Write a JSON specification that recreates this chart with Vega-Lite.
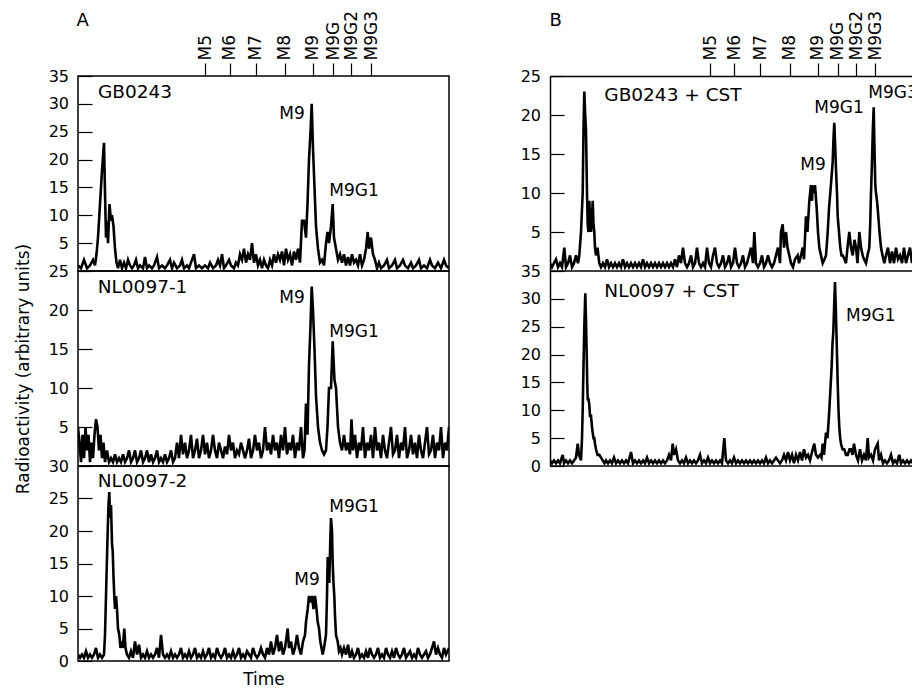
{
"$schema": "https://vega.github.io/schema/vega-lite/v6.json",
"padding": {"left": 13, "top": 9, "right": 0, "bottom": 0},
"background": "white",
"config": {
  "font": "DejaVu Sans",
  "view": {"stroke": "black", "strokeWidth": 1.5},
  "axis": {"grid": false, "labelColor": "black", "titleColor": "black", "tickColor": "black", "domainColor": "black", "labelFont": "DejaVu Sans", "titleFont": "DejaVu Sans", "titleFontWeight": "normal", "labelFontSize": 16, "titleFontSize": 17, "tickWidth": 1.2, "domainWidth": 1.5, "labelOverlap": false, "labelFlush": false, "labelBound": false},
  "line": {"color": "black", "strokeWidth": 2.6},
  "text": {"font": "DejaVu Sans", "color": "black"}
},
"datasets": {
"a1": [{"t":0,"v":1},{"t":3,"v":0.5},{"t":6,"v":2},{"t":9,"v":0.5},{"t":12,"v":1},{"t":15,"v":2},{"t":17,"v":1},{"t":18.5,"v":3},{"t":20,"v":6},{"t":22,"v":12},{"t":24,"v":18},{"t":26,"v":23},{"t":27,"v":14},{"t":28,"v":6},{"t":29,"v":9},{"t":30,"v":5},{"t":31.5,"v":12},{"t":33,"v":9},{"t":34,"v":10},{"t":35.5,"v":8},{"t":37,"v":4},{"t":38.5,"v":1.5},{"t":40,"v":0.5},{"t":42,"v":2},{"t":44,"v":0.5},{"t":46,"v":1.5},{"t":48,"v":0.5},{"t":50,"v":2},{"t":52,"v":1},{"t":54,"v":0.5},{"t":56,"v":1},{"t":58,"v":2},{"t":60,"v":0.5},{"t":62,"v":1},{"t":65,"v":0.5},{"t":67,"v":2.5},{"t":69,"v":0.5},{"t":71,"v":1},{"t":74,"v":0.5},{"t":76,"v":1},{"t":79,"v":2.5},{"t":81,"v":0.5},{"t":84,"v":1},{"t":87,"v":0.5},{"t":89,"v":1},{"t":92,"v":2},{"t":94,"v":0.5},{"t":96,"v":1.5},{"t":99,"v":0.5},{"t":102,"v":1},{"t":104,"v":2},{"t":106,"v":0.5},{"t":109,"v":1},{"t":111,"v":0.5},{"t":113,"v":1.5},{"t":116,"v":3},{"t":118,"v":0.5},{"t":121,"v":1},{"t":124,"v":0.5},{"t":127,"v":1},{"t":130,"v":0.5},{"t":132,"v":1.5},{"t":135,"v":0.5},{"t":138,"v":1},{"t":140,"v":2},{"t":142,"v":1},{"t":144,"v":3},{"t":146,"v":0.5},{"t":148,"v":1},{"t":151,"v":2},{"t":153,"v":1},{"t":156,"v":0.5},{"t":158,"v":1.5},{"t":160,"v":1},{"t":162,"v":3},{"t":164,"v":2},{"t":166,"v":4},{"t":168,"v":1.5},{"t":170,"v":3},{"t":172,"v":2},{"t":174,"v":5},{"t":176,"v":1.5},{"t":178,"v":3},{"t":180,"v":1},{"t":182,"v":2},{"t":184,"v":0.5},{"t":186,"v":2},{"t":188,"v":1},{"t":190,"v":0.5},{"t":192,"v":2},{"t":194,"v":1},{"t":196,"v":3},{"t":198,"v":1.5},{"t":200,"v":3},{"t":202,"v":2},{"t":204,"v":3.5},{"t":206,"v":1},{"t":208,"v":4},{"t":210,"v":2},{"t":212,"v":3},{"t":214,"v":1},{"t":216,"v":3.5},{"t":218,"v":2},{"t":220,"v":4},{"t":222,"v":1.5},{"t":224,"v":9},{"t":226,"v":9},{"t":228,"v":6},{"t":229.5,"v":12},{"t":231,"v":20},{"t":232.5,"v":25},{"t":233.7,"v":30},{"t":235,"v":22},{"t":236.5,"v":15},{"t":238,"v":8},{"t":240,"v":4},{"t":242,"v":1.5},{"t":244,"v":2},{"t":246,"v":1},{"t":248,"v":5},{"t":249.5,"v":7},{"t":251,"v":5},{"t":253,"v":8},{"t":254.7,"v":12},{"t":256,"v":6},{"t":258,"v":4},{"t":260,"v":2},{"t":262,"v":3},{"t":264,"v":1.5},{"t":266,"v":3},{"t":268,"v":1},{"t":270,"v":2.5},{"t":272,"v":1},{"t":274,"v":3},{"t":276,"v":1.5},{"t":278,"v":2},{"t":280,"v":1},{"t":282,"v":3},{"t":284,"v":1},{"t":286,"v":2},{"t":288,"v":4},{"t":289.7,"v":7},{"t":291,"v":4},{"t":293,"v":6},{"t":295,"v":3},{"t":297,"v":2},{"t":299,"v":0.5},{"t":301,"v":1.5},{"t":303,"v":0.5},{"t":306,"v":1},{"t":309,"v":2},{"t":311,"v":0.5},{"t":314,"v":1},{"t":317,"v":2},{"t":319,"v":0.5},{"t":322,"v":1},{"t":325,"v":2},{"t":327,"v":1},{"t":330,"v":0.5},{"t":333,"v":1.5},{"t":335,"v":0.5},{"t":338,"v":1},{"t":341,"v":2},{"t":343,"v":0.5},{"t":346,"v":1},{"t":349,"v":0.5},{"t":352,"v":2},{"t":354,"v":1},{"t":357,"v":0.5},{"t":360,"v":1.5},{"t":363,"v":0.5},{"t":366,"v":2},{"t":368,"v":1},{"t":371,"v":0.5}],
"a2": [{"t":0,"v":5},{"t":1.5,"v":3},{"t":3,"v":0.5},{"t":4.5,"v":4},{"t":6,"v":1},{"t":7.5,"v":5},{"t":9,"v":2},{"t":10.5,"v":4},{"t":12,"v":0.5},{"t":13.5,"v":3},{"t":15,"v":1},{"t":16.5,"v":4},{"t":18,"v":6},{"t":19.5,"v":5},{"t":21,"v":2},{"t":22.5,"v":4},{"t":24,"v":1},{"t":25.5,"v":3},{"t":27,"v":0.5},{"t":29,"v":2},{"t":31,"v":0.5},{"t":33,"v":1},{"t":35,"v":0.5},{"t":37,"v":1.5},{"t":39,"v":0.5},{"t":41,"v":1},{"t":43,"v":0.5},{"t":45,"v":1.5},{"t":47,"v":0.5},{"t":49,"v":1},{"t":51,"v":2},{"t":53,"v":0.5},{"t":55,"v":1},{"t":57,"v":2},{"t":59,"v":0.5},{"t":61,"v":1},{"t":63,"v":2},{"t":65,"v":0.5},{"t":67,"v":1},{"t":69,"v":2},{"t":71,"v":0.5},{"t":73,"v":1.5},{"t":75,"v":0.5},{"t":77,"v":1},{"t":79,"v":2},{"t":81,"v":0.5},{"t":83,"v":1},{"t":85,"v":0.5},{"t":87,"v":1.5},{"t":89,"v":0.5},{"t":91,"v":1},{"t":93,"v":2},{"t":95,"v":0.5},{"t":97,"v":1},{"t":99,"v":3},{"t":101,"v":1},{"t":103,"v":4},{"t":105,"v":1.5},{"t":107,"v":3},{"t":109,"v":1},{"t":111,"v":2},{"t":113,"v":4},{"t":115,"v":1},{"t":117,"v":2},{"t":119,"v":3.5},{"t":121,"v":1},{"t":123,"v":2},{"t":125,"v":4},{"t":127,"v":1.5},{"t":129,"v":3},{"t":131,"v":1},{"t":133,"v":2},{"t":135,"v":4},{"t":137,"v":2},{"t":139,"v":1},{"t":141,"v":3},{"t":143,"v":2},{"t":145,"v":1},{"t":147,"v":2.5},{"t":149,"v":1.5},{"t":151,"v":4},{"t":153,"v":2},{"t":155,"v":3},{"t":157,"v":1},{"t":159,"v":2},{"t":161,"v":1.5},{"t":163,"v":3},{"t":165,"v":2},{"t":167,"v":1},{"t":169,"v":2},{"t":171,"v":3.5},{"t":173,"v":1},{"t":175,"v":2},{"t":177,"v":4},{"t":179,"v":2},{"t":181,"v":3},{"t":183,"v":1},{"t":185,"v":2},{"t":187,"v":5},{"t":189,"v":2},{"t":191,"v":3},{"t":193,"v":1.5},{"t":195,"v":4},{"t":197,"v":2},{"t":199,"v":3},{"t":201,"v":1},{"t":203,"v":4},{"t":205,"v":2},{"t":207,"v":5},{"t":209,"v":1.5},{"t":211,"v":3},{"t":213,"v":2},{"t":215,"v":4},{"t":217,"v":1},{"t":219,"v":3},{"t":221,"v":2},{"t":223,"v":5},{"t":225,"v":1},{"t":226.5,"v":2},{"t":228,"v":8},{"t":229.5,"v":4},{"t":231,"v":13},{"t":232.5,"v":18},{"t":233.7,"v":23},{"t":235,"v":20},{"t":236.5,"v":15},{"t":238,"v":9},{"t":240,"v":5},{"t":242,"v":3},{"t":244,"v":2},{"t":246,"v":1.5},{"t":248,"v":2},{"t":249.5,"v":5},{"t":251,"v":10},{"t":253,"v":10},{"t":254.7,"v":16},{"t":256.5,"v":11},{"t":258,"v":10},{"t":260,"v":5},{"t":262,"v":3},{"t":264,"v":2},{"t":266,"v":4},{"t":268,"v":2},{"t":270,"v":3},{"t":272,"v":1.5},{"t":273.5,"v":6},{"t":275,"v":2},{"t":277,"v":4},{"t":279,"v":1},{"t":281,"v":3},{"t":283,"v":2},{"t":285,"v":5},{"t":287,"v":1},{"t":289,"v":3},{"t":291,"v":2},{"t":293,"v":4},{"t":295,"v":1},{"t":297,"v":5},{"t":299,"v":2},{"t":301,"v":3},{"t":303,"v":1},{"t":305,"v":4},{"t":307,"v":2},{"t":309,"v":1},{"t":311,"v":3},{"t":313,"v":5},{"t":315,"v":1.5},{"t":317,"v":2},{"t":319,"v":4},{"t":321,"v":1},{"t":323,"v":3},{"t":325,"v":2},{"t":327,"v":5},{"t":329,"v":1},{"t":331,"v":2},{"t":333,"v":4},{"t":335,"v":1.5},{"t":337,"v":3},{"t":339,"v":1},{"t":341,"v":4},{"t":343,"v":2},{"t":345,"v":1},{"t":347,"v":3},{"t":349,"v":5},{"t":351,"v":1.5},{"t":353,"v":2},{"t":355,"v":4},{"t":357,"v":1},{"t":359,"v":3},{"t":361,"v":2},{"t":363,"v":5},{"t":365,"v":1},{"t":367,"v":3},{"t":369,"v":2},{"t":371,"v":5}],
"a3": [{"t":0,"v":1},{"t":2,"v":0.5},{"t":4,"v":1},{"t":6,"v":0.5},{"t":8,"v":1.5},{"t":10,"v":0.5},{"t":12,"v":1},{"t":14,"v":0.5},{"t":16,"v":1},{"t":18,"v":2},{"t":20,"v":0.5},{"t":22,"v":1},{"t":24,"v":0.5},{"t":26,"v":1},{"t":27,"v":4},{"t":28,"v":10},{"t":29,"v":16},{"t":29.7,"v":20},{"t":30.5,"v":24},{"t":31.3,"v":26},{"t":32,"v":22},{"t":33,"v":24},{"t":34,"v":18},{"t":34.7,"v":17},{"t":35.5,"v":13},{"t":36.3,"v":10},{"t":37,"v":8},{"t":38,"v":10},{"t":39,"v":8},{"t":40,"v":5},{"t":41.3,"v":4},{"t":42.5,"v":2},{"t":43.5,"v":3},{"t":44.7,"v":2},{"t":46.3,"v":5},{"t":47.5,"v":2},{"t":49,"v":1},{"t":51,"v":0.5},{"t":53,"v":1.5},{"t":55,"v":0.5},{"t":57,"v":3},{"t":59,"v":1},{"t":61,"v":2.5},{"t":63,"v":0.5},{"t":65,"v":1},{"t":67,"v":0.5},{"t":69,"v":1.5},{"t":71,"v":0.5},{"t":73,"v":1},{"t":75,"v":0.5},{"t":77,"v":1},{"t":79,"v":2},{"t":81,"v":0.5},{"t":83,"v":4},{"t":85,"v":1},{"t":87,"v":0.5},{"t":89,"v":1},{"t":91,"v":0.5},{"t":93,"v":1.5},{"t":95,"v":0.5},{"t":97,"v":1},{"t":99,"v":0.5},{"t":101,"v":1},{"t":103,"v":2},{"t":105,"v":0.5},{"t":107,"v":1},{"t":109,"v":0.5},{"t":111,"v":1.5},{"t":113,"v":0.5},{"t":115,"v":1},{"t":117,"v":2},{"t":119,"v":0.5},{"t":121,"v":1},{"t":123,"v":0.5},{"t":125,"v":1.5},{"t":127,"v":0.5},{"t":129,"v":1},{"t":131,"v":2},{"t":133,"v":0.5},{"t":135,"v":1},{"t":137,"v":0.5},{"t":139,"v":2},{"t":141,"v":1},{"t":143,"v":0.5},{"t":145,"v":1},{"t":147,"v":2},{"t":149,"v":0.5},{"t":151,"v":1},{"t":153,"v":0.5},{"t":155,"v":1.5},{"t":157,"v":0.5},{"t":159,"v":1},{"t":161,"v":2},{"t":163,"v":0.5},{"t":165,"v":1},{"t":167,"v":0.5},{"t":169,"v":1.5},{"t":171,"v":1},{"t":173,"v":0.5},{"t":175,"v":2},{"t":177,"v":1},{"t":179,"v":0.5},{"t":181,"v":1},{"t":183,"v":2},{"t":185,"v":1},{"t":187,"v":0.5},{"t":189,"v":2},{"t":191,"v":1},{"t":193,"v":3},{"t":195,"v":1},{"t":197,"v":2},{"t":199,"v":4},{"t":201,"v":1.5},{"t":203,"v":3},{"t":205,"v":1},{"t":207,"v":2},{"t":209.7,"v":5},{"t":211,"v":2},{"t":213,"v":3},{"t":215,"v":1},{"t":217,"v":2},{"t":219,"v":4},{"t":221,"v":2},{"t":223,"v":1},{"t":225,"v":3},{"t":227,"v":4},{"t":228,"v":6},{"t":229.7,"v":8},{"t":231,"v":10},{"t":232.5,"v":9},{"t":234,"v":10},{"t":235.5,"v":8},{"t":237,"v":10},{"t":238.5,"v":8},{"t":239.7,"v":6},{"t":241,"v":5},{"t":242.3,"v":3},{"t":243.5,"v":2},{"t":244.7,"v":1},{"t":246,"v":2},{"t":247,"v":3},{"t":248,"v":4},{"t":249,"v":10},{"t":249.7,"v":16},{"t":250.5,"v":14},{"t":251.3,"v":12},{"t":252.2,"v":18},{"t":253,"v":22},{"t":254,"v":20},{"t":254.7,"v":15},{"t":255.5,"v":12},{"t":256.3,"v":10},{"t":257,"v":7},{"t":258,"v":4},{"t":259.7,"v":3},{"t":261,"v":1.5},{"t":262.5,"v":2},{"t":264,"v":1},{"t":266,"v":2},{"t":268,"v":1},{"t":270,"v":2.5},{"t":272,"v":0.5},{"t":274,"v":1.5},{"t":276,"v":0.5},{"t":278,"v":1},{"t":280,"v":2},{"t":282,"v":0.5},{"t":284,"v":1},{"t":286,"v":0.5},{"t":288,"v":1.5},{"t":290,"v":0.5},{"t":292,"v":2},{"t":294,"v":1},{"t":296,"v":0.5},{"t":298,"v":1},{"t":300,"v":2},{"t":302,"v":0.5},{"t":304,"v":1},{"t":306,"v":0.5},{"t":308,"v":2},{"t":310,"v":1},{"t":312,"v":0.5},{"t":314,"v":1.5},{"t":316,"v":0.5},{"t":318,"v":2},{"t":320,"v":1},{"t":322,"v":0.5},{"t":324,"v":1},{"t":326,"v":2},{"t":328,"v":0.5},{"t":330,"v":1},{"t":332,"v":1.5},{"t":334,"v":0.5},{"t":336,"v":1},{"t":338,"v":0.5},{"t":340,"v":2},{"t":342,"v":1},{"t":344,"v":0.5},{"t":346,"v":1},{"t":348,"v":1.5},{"t":350,"v":0.5},{"t":352,"v":1},{"t":354,"v":2},{"t":356,"v":3},{"t":358,"v":1},{"t":360,"v":2},{"t":362,"v":1},{"t":364,"v":0.5},{"t":366,"v":2},{"t":368,"v":1},{"t":371,"v":2}],
"b1": [{"t":0,"v":1},{"t":2,"v":0.5},{"t":4,"v":1},{"t":6,"v":1.5},{"t":8,"v":0.5},{"t":10,"v":1},{"t":12,"v":0.5},{"t":14.3,"v":3},{"t":16,"v":0.5},{"t":18,"v":1},{"t":20,"v":2},{"t":22,"v":0.5},{"t":24,"v":1},{"t":26,"v":2},{"t":28,"v":1},{"t":29.3,"v":2},{"t":31,"v":5},{"t":32.7,"v":10},{"t":33.5,"v":18},{"t":34.3,"v":23},{"t":35.2,"v":20},{"t":36,"v":18},{"t":37,"v":10},{"t":37.7,"v":6},{"t":38.5,"v":5},{"t":39.3,"v":9},{"t":40,"v":7},{"t":41,"v":5},{"t":42,"v":7},{"t":42.7,"v":9},{"t":43.5,"v":6},{"t":44.3,"v":5},{"t":45,"v":3},{"t":46,"v":2},{"t":47.5,"v":3},{"t":49.3,"v":1},{"t":51,"v":0.5},{"t":53,"v":1},{"t":55,"v":0.5},{"t":57,"v":1.5},{"t":59,"v":0.5},{"t":61,"v":1},{"t":63,"v":0.5},{"t":65,"v":1},{"t":67,"v":0.5},{"t":69,"v":1},{"t":71,"v":0.5},{"t":73,"v":1.5},{"t":75,"v":0.5},{"t":77,"v":1},{"t":79,"v":0.5},{"t":81,"v":1},{"t":83,"v":0.5},{"t":85,"v":1},{"t":87,"v":0.5},{"t":89,"v":1},{"t":91,"v":0.5},{"t":93,"v":1.5},{"t":95,"v":0.5},{"t":97,"v":1},{"t":99,"v":0.5},{"t":101,"v":1},{"t":103,"v":0.5},{"t":105,"v":1},{"t":107,"v":0.5},{"t":109,"v":1},{"t":111,"v":0.5},{"t":113,"v":1},{"t":115,"v":0.5},{"t":117,"v":1},{"t":119,"v":0.5},{"t":121,"v":1},{"t":123,"v":0.5},{"t":125,"v":1.5},{"t":127,"v":0.5},{"t":129,"v":2},{"t":131,"v":1},{"t":133,"v":3},{"t":135,"v":1},{"t":137,"v":0.5},{"t":139,"v":1},{"t":141,"v":2},{"t":143,"v":0.5},{"t":145,"v":1},{"t":147,"v":3},{"t":149,"v":1},{"t":151,"v":0.5},{"t":153,"v":1},{"t":155,"v":0.5},{"t":157,"v":3},{"t":159,"v":1},{"t":161,"v":0.5},{"t":163,"v":2},{"t":165,"v":3},{"t":167,"v":1},{"t":169,"v":0.5},{"t":171,"v":1},{"t":173,"v":2},{"t":175,"v":0.5},{"t":177,"v":1},{"t":179,"v":2},{"t":181,"v":0.5},{"t":183,"v":1},{"t":185,"v":3},{"t":187,"v":1},{"t":189,"v":0.5},{"t":191,"v":1},{"t":193,"v":2},{"t":195,"v":0.5},{"t":197,"v":1},{"t":199,"v":2},{"t":201,"v":3},{"t":203,"v":1},{"t":204.3,"v":5},{"t":206,"v":1},{"t":208,"v":0.5},{"t":210,"v":1},{"t":212,"v":2},{"t":214,"v":0.5},{"t":216,"v":1},{"t":218,"v":2},{"t":220,"v":1},{"t":222,"v":0.5},{"t":224,"v":1},{"t":226,"v":2},{"t":228,"v":3},{"t":230,"v":1},{"t":231,"v":5},{"t":232.7,"v":6},{"t":234,"v":3},{"t":236,"v":5},{"t":237.5,"v":3},{"t":239.3,"v":2},{"t":241,"v":1},{"t":243,"v":0.5},{"t":245,"v":1.5},{"t":247.7,"v":2},{"t":249,"v":1},{"t":251,"v":2},{"t":252.7,"v":3},{"t":254,"v":1.5},{"t":256,"v":7},{"t":257.5,"v":5},{"t":259.3,"v":9},{"t":261,"v":11},{"t":262,"v":9},{"t":262.7,"v":11},{"t":264,"v":10},{"t":265,"v":11},{"t":266.7,"v":8},{"t":268,"v":5},{"t":269.3,"v":3},{"t":271,"v":2},{"t":272.7,"v":1},{"t":274.5,"v":1.5},{"t":276,"v":2},{"t":277.7,"v":5},{"t":279,"v":8},{"t":280.3,"v":10},{"t":281.5,"v":12},{"t":282.7,"v":14},{"t":283.5,"v":17},{"t":284.3,"v":19},{"t":285.2,"v":16},{"t":286,"v":13},{"t":287,"v":10},{"t":287.7,"v":7},{"t":289,"v":5},{"t":290.3,"v":3},{"t":291.5,"v":2},{"t":292.7,"v":2},{"t":294.5,"v":1.5},{"t":296,"v":1},{"t":297.5,"v":3},{"t":299.3,"v":5},{"t":301,"v":3},{"t":302.7,"v":2},{"t":304.5,"v":4},{"t":306,"v":3},{"t":307.5,"v":1},{"t":309.3,"v":5},{"t":311,"v":3},{"t":312.7,"v":2},{"t":314,"v":1.5},{"t":316,"v":1},{"t":317.5,"v":2},{"t":319.3,"v":3},{"t":320.2,"v":6},{"t":321,"v":10},{"t":322,"v":14},{"t":322.8,"v":18},{"t":323.7,"v":21},{"t":324.6,"v":15},{"t":325.3,"v":11},{"t":326,"v":10},{"t":327,"v":9},{"t":327.7,"v":8},{"t":329.5,"v":5},{"t":331,"v":3},{"t":332.5,"v":2},{"t":334.3,"v":1},{"t":336,"v":2},{"t":338,"v":3},{"t":340,"v":1},{"t":342,"v":2.5},{"t":344,"v":1},{"t":346,"v":3},{"t":348,"v":1.5},{"t":350,"v":2},{"t":352,"v":1},{"t":354,"v":3},{"t":356,"v":1},{"t":358,"v":2},{"t":360,"v":3},{"t":362,"v":1},{"t":363,"v":2}],
"b2": [{"t":0,"v":1},{"t":2,"v":0.5},{"t":4,"v":1},{"t":6,"v":0.5},{"t":8,"v":1},{"t":10,"v":0.5},{"t":12.7,"v":2},{"t":14,"v":0.5},{"t":16,"v":1},{"t":18,"v":0.5},{"t":20,"v":1},{"t":22,"v":0.5},{"t":24,"v":1},{"t":26,"v":1.5},{"t":27.7,"v":4},{"t":29,"v":2},{"t":31,"v":1},{"t":32,"v":5},{"t":32.7,"v":10},{"t":33.5,"v":18},{"t":34.3,"v":25},{"t":35.3,"v":31},{"t":36,"v":26},{"t":36.7,"v":20},{"t":37.2,"v":15},{"t":37.7,"v":12},{"t":38.5,"v":12},{"t":39.3,"v":11},{"t":40,"v":9},{"t":41,"v":9},{"t":42,"v":7},{"t":42.7,"v":6},{"t":43.5,"v":5},{"t":44.3,"v":5},{"t":45,"v":4},{"t":46,"v":3},{"t":47.5,"v":2},{"t":49.3,"v":2},{"t":51,"v":1.5},{"t":52.7,"v":1},{"t":54.5,"v":0.5},{"t":56,"v":1},{"t":58,"v":0.5},{"t":60,"v":1},{"t":62,"v":0.5},{"t":64,"v":1.5},{"t":66,"v":0.5},{"t":68,"v":1},{"t":70,"v":0.5},{"t":72,"v":1},{"t":74,"v":0.5},{"t":76,"v":1},{"t":78,"v":0.5},{"t":81,"v":2.5},{"t":83,"v":0.5},{"t":85,"v":1},{"t":87,"v":0.5},{"t":89,"v":1},{"t":91,"v":0.5},{"t":93,"v":1},{"t":95,"v":0.5},{"t":97,"v":1.5},{"t":99,"v":0.5},{"t":101,"v":1},{"t":103,"v":0.5},{"t":105,"v":1},{"t":107,"v":0.5},{"t":109,"v":1},{"t":111,"v":0.5},{"t":113,"v":1},{"t":115,"v":0.5},{"t":117,"v":1},{"t":119,"v":2},{"t":121,"v":1},{"t":122.7,"v":4},{"t":124,"v":2},{"t":126,"v":3},{"t":128,"v":1},{"t":130,"v":0.5},{"t":132,"v":1},{"t":134,"v":0.5},{"t":136,"v":1.5},{"t":138,"v":0.5},{"t":140,"v":1},{"t":142,"v":0.5},{"t":144,"v":1},{"t":146,"v":0.5},{"t":148,"v":1},{"t":150,"v":2},{"t":152,"v":0.5},{"t":154,"v":1},{"t":156,"v":0.5},{"t":158,"v":1.5},{"t":160,"v":0.5},{"t":162,"v":1},{"t":164,"v":0.5},{"t":166,"v":1},{"t":168,"v":0.5},{"t":170,"v":1},{"t":172,"v":0.5},{"t":174.3,"v":5},{"t":176,"v":1},{"t":178,"v":0.5},{"t":180,"v":1},{"t":182,"v":0.5},{"t":184,"v":1.5},{"t":186,"v":0.5},{"t":188,"v":1},{"t":190,"v":0.5},{"t":192,"v":1},{"t":194,"v":0.5},{"t":196,"v":1},{"t":198,"v":0.5},{"t":200,"v":1},{"t":202,"v":0.5},{"t":204,"v":1},{"t":206,"v":0.5},{"t":208,"v":1},{"t":210,"v":0.5},{"t":212,"v":1},{"t":214,"v":0.5},{"t":216,"v":1.5},{"t":218,"v":0.5},{"t":220,"v":1},{"t":222,"v":0.5},{"t":224,"v":1},{"t":226,"v":1.5},{"t":228,"v":1},{"t":230,"v":0.5},{"t":232,"v":1},{"t":234,"v":2},{"t":236,"v":1},{"t":238,"v":2.5},{"t":240,"v":1},{"t":242,"v":2},{"t":244,"v":0.5},{"t":246,"v":2},{"t":248,"v":1},{"t":250,"v":2.5},{"t":252,"v":1},{"t":254,"v":3},{"t":256,"v":1.5},{"t":258,"v":2},{"t":260,"v":1},{"t":262,"v":2.5},{"t":264.3,"v":4},{"t":266,"v":2},{"t":268,"v":1.5},{"t":270,"v":2},{"t":271.5,"v":1.5},{"t":272.7,"v":4},{"t":274,"v":2},{"t":276,"v":6},{"t":277.5,"v":5},{"t":279.3,"v":10},{"t":280.5,"v":14},{"t":281.7,"v":18},{"t":282.5,"v":22},{"t":283.3,"v":24},{"t":284.2,"v":29},{"t":285,"v":33},{"t":285.7,"v":29},{"t":286.3,"v":25},{"t":287,"v":20},{"t":287.7,"v":15},{"t":288.5,"v":10},{"t":289.3,"v":7},{"t":290.2,"v":5},{"t":291,"v":4},{"t":292.5,"v":3},{"t":294.3,"v":3},{"t":296,"v":2},{"t":297.7,"v":2},{"t":299.5,"v":3},{"t":301,"v":3},{"t":302.5,"v":2},{"t":304,"v":4},{"t":306,"v":2},{"t":308,"v":1},{"t":310,"v":3},{"t":312,"v":1},{"t":314,"v":2},{"t":316,"v":1},{"t":317.7,"v":5},{"t":319,"v":1.5},{"t":321,"v":2},{"t":323,"v":1},{"t":325,"v":3},{"t":327.7,"v":4},{"t":329,"v":1},{"t":331,"v":2},{"t":333,"v":0.5},{"t":335,"v":1},{"t":337,"v":0.5},{"t":339,"v":1},{"t":341,"v":2},{"t":343,"v":0.5},{"t":345,"v":1},{"t":347,"v":0.5},{"t":349.3,"v":2},{"t":351,"v":0.5},{"t":353,"v":1},{"t":355,"v":0.5},{"t":357,"v":1},{"t":359,"v":0.5},{"t":361,"v":1},{"t":363,"v":0.5}],
"baseline": [{"t":0,"v":0},{"t":363,"v":0}],
"labels": [
{"p":"a1","kind":"name","t":20,"v":32.1,"label":"GB0243"},
{"p":"a1","kind":"peak","t":201.3,"v":28.2,"label":"M9"},
{"p":"a1","kind":"peak","t":251.3,"v":14.3,"label":"M9G1"},
{"p":"a2","kind":"name","t":19.7,"v":23,"label":"NL0097-1"},
{"p":"a2","kind":"peak","t":201.3,"v":21.5,"label":"M9"},
{"p":"a2","kind":"peak","t":251.3,"v":17.2,"label":"M9G1"},
{"p":"a3","kind":"name","t":19.7,"v":27.7,"label":"NL0097-2"},
{"p":"a3","kind":"peak","t":216.3,"v":12.4,"label":"M9"},
{"p":"a3","kind":"peak","t":251.3,"v":23.7,"label":"M9G1"},
{"p":"b1","kind":"name","t":54.3,"v":22.6,"label":"GB0243 + CST"},
{"p":"b1","kind":"peak","t":250.3,"v":13.6,"label":"M9"},
{"p":"b1","kind":"peak","t":264.3,"v":20.9,"label":"M9G1"},
{"p":"b1","kind":"peak","t":318.3,"v":22.8,"label":"M9G3"},
{"p":"b2","kind":"name","t":54.3,"v":31.4,"label":"NL0097 + CST"},
{"p":"b2","kind":"peak","t":296,"v":26.9,"label":"M9G1"}
]
},
"spacing": 70,
"hconcat": [
 {"vconcat": [
  {"width": 371, "height": 195,
   "encoding": {
      "x": {"field": "t", "type": "quantitative", "scale": {"domain": [0, 371], "nice": false, "zero": false},
            "axis": {"orient": "top", "values": [127.3, 151.7, 177.7, 206.7, 234.7, 255, 273, 293],
                     "labelExpr": "datum.value < 140 ? 'M5' : datum.value < 165 ? 'M6' : datum.value < 190 ? 'M7' : datum.value < 220 ? 'M8' : datum.value < 245 ? 'M9' : datum.value < 264 ? 'M9G' : datum.value < 283 ? 'M9G2' : 'M9G3'",
                     "labelAngle": -90, "labelAlign": "left", "labelBaseline": "middle", "labelFontSize": 17, "labelPadding": 3, "tickSize": 13, "domain": false,
                     "title": "A", "titleAngle": 0, "titleAlign": "left", "titleBaseline": "alphabetic", "titleAnchor": "start", "titleX": -2, "titleY": -51, "titleFontSize": 18}},
      "y": {"field": "v", "type": "quantitative", "scale": {"domain": [0, 35], "nice": false},
            "axis": {"values": [5, 10, 15, 20, 25, 30, 35], "tickSize": -14, "labelPadding": 23.5, "domain": false, "title": null}}},
   "layer": [
    {"data": {"name": "a1"}, "mark": {"type": "line", "clip": true}},
    {"data": {"name": "labels"}, "transform": [{"filter": "datum.p === 'a1' && datum.kind === 'name'"}],
     "mark": {"type": "text", "align": "left", "baseline": "middle", "fontSize": 18.5}, "encoding": {"text": {"field": "label"}}},
    {"data": {"name": "labels"}, "transform": [{"filter": "datum.p === 'a1' && datum.kind === 'peak'"}],
     "mark": {"type": "text", "align": "left", "baseline": "middle", "fontSize": 17}, "encoding": {"text": {"field": "label"}}}
   ]},
  {"width": 371, "height": 195,
   "encoding": {
      "x": {"field": "t", "type": "quantitative", "scale": {"domain": [0, 371], "nice": false, "zero": false}, "axis": null},
      "y": {"field": "v", "type": "quantitative", "scale": {"domain": [0, 25], "nice": false},
            "axis": {"values": [5, 10, 15, 20, 25], "tickSize": -14, "labelPadding": 23.5, "domain": false, "title": "Radioactivity (arbitrary units)", "titlePadding": 16}}},
   "layer": [
    {"data": {"name": "a2"}, "mark": {"type": "line", "clip": true}},
    {"data": {"name": "labels"}, "transform": [{"filter": "datum.p === 'a2' && datum.kind === 'name'"}],
     "mark": {"type": "text", "align": "left", "baseline": "middle", "fontSize": 18.5}, "encoding": {"text": {"field": "label"}}},
    {"data": {"name": "labels"}, "transform": [{"filter": "datum.p === 'a2' && datum.kind === 'peak'"}],
     "mark": {"type": "text", "align": "left", "baseline": "middle", "fontSize": 17}, "encoding": {"text": {"field": "label"}}}
   ]},
  {"width": 371, "height": 195,
   "encoding": {
      "x": {"field": "t", "type": "quantitative", "scale": {"domain": [0, 371], "nice": false, "zero": false},
            "axis": {"orient": "bottom", "labels": false, "ticks": false, "domain": false, "title": "Time", "titlePadding": 10}},
      "y": {"field": "v", "type": "quantitative", "scale": {"domain": [0, 30], "nice": false},
            "axis": {"values": [0, 5, 10, 15, 20, 25, 30], "tickSize": -14, "labelPadding": 23.5, "domain": false, "title": null}}},
   "layer": [
    {"data": {"name": "a3"}, "mark": {"type": "line", "clip": true}},
    {"data": {"name": "labels"}, "transform": [{"filter": "datum.p === 'a3' && datum.kind === 'name'"}],
     "mark": {"type": "text", "align": "left", "baseline": "middle", "fontSize": 18.5}, "encoding": {"text": {"field": "label"}}},
    {"data": {"name": "labels"}, "transform": [{"filter": "datum.p === 'a3' && datum.kind === 'peak'"}],
     "mark": {"type": "text", "align": "left", "baseline": "middle", "fontSize": 17}, "encoding": {"text": {"field": "label"}}}
   ]}
 ], "spacing": 0, "bounds": "flush"},
 {"vconcat": [
  {"width": 363, "height": 195, "view": {"stroke": null},
   "encoding": {
      "x": {"field": "t", "type": "quantitative", "scale": {"domain": [0, 363], "nice": false, "zero": false},
            "axis": {"orient": "top", "values": [160.3, 184.3, 210, 239.7, 267.7, 287.7, 306, 325.3],
                     "labelExpr": "datum.value < 172 ? 'M5' : datum.value < 197 ? 'M6' : datum.value < 225 ? 'M7' : datum.value < 253 ? 'M8' : datum.value < 278 ? 'M9' : datum.value < 297 ? 'M9G' : datum.value < 315 ? 'M9G2' : 'M9G3'",
                     "labelAngle": -90, "labelAlign": "left", "labelBaseline": "middle", "labelFontSize": 17, "labelPadding": 3, "tickSize": 13, "domain": true,
                     "title": "B", "titleAngle": 0, "titleAlign": "left", "titleBaseline": "alphabetic", "titleAnchor": "start", "titleX": -1, "titleY": -51, "titleFontSize": 18}},
      "y": {"field": "v", "type": "quantitative", "scale": {"domain": [0, 25], "nice": false},
            "axis": {"values": [5, 10, 15, 20, 25], "tickSize": -14, "labelPadding": 23.5, "domain": true, "title": null}}},
   "layer": [
    {"data": {"name": "b1"}, "mark": {"type": "line", "clip": true}},
    {"data": {"name": "baseline"}, "mark": {"type": "line", "strokeWidth": 1.5}},
    {"data": {"name": "labels"}, "transform": [{"filter": "datum.p === 'b1' && datum.kind === 'name'"}],
     "mark": {"type": "text", "align": "left", "baseline": "middle", "fontSize": 18.5}, "encoding": {"text": {"field": "label"}}},
    {"data": {"name": "labels"}, "transform": [{"filter": "datum.p === 'b1' && datum.kind === 'peak'"}],
     "mark": {"type": "text", "align": "left", "baseline": "middle", "fontSize": 17, "clip": true}, "encoding": {"text": {"field": "label"}}}
   ]},
  {"width": 363, "height": 195, "view": {"stroke": null},
   "encoding": {
      "x": {"field": "t", "type": "quantitative", "scale": {"domain": [0, 363], "nice": false, "zero": false}, "axis": null},
      "y": {"field": "v", "type": "quantitative", "scale": {"domain": [0, 35], "nice": false},
            "axis": {"values": [0, 5, 10, 15, 20, 25, 30, 35], "tickSize": -14, "labelPadding": 23.5, "domain": true, "title": null}}},
   "layer": [
    {"data": {"name": "b2"}, "mark": {"type": "line", "clip": true}},
    {"data": {"name": "baseline"}, "mark": {"type": "line", "strokeWidth": 1.5}},
    {"data": {"name": "labels"}, "transform": [{"filter": "datum.p === 'b2' && datum.kind === 'name'"}],
     "mark": {"type": "text", "align": "left", "baseline": "middle", "fontSize": 18.5}, "encoding": {"text": {"field": "label"}}},
    {"data": {"name": "labels"}, "transform": [{"filter": "datum.p === 'b2' && datum.kind === 'peak'"}],
     "mark": {"type": "text", "align": "left", "baseline": "middle", "fontSize": 17}, "encoding": {"text": {"field": "label"}}}
   ]}
 ], "spacing": 0, "bounds": "flush"}
]
}
